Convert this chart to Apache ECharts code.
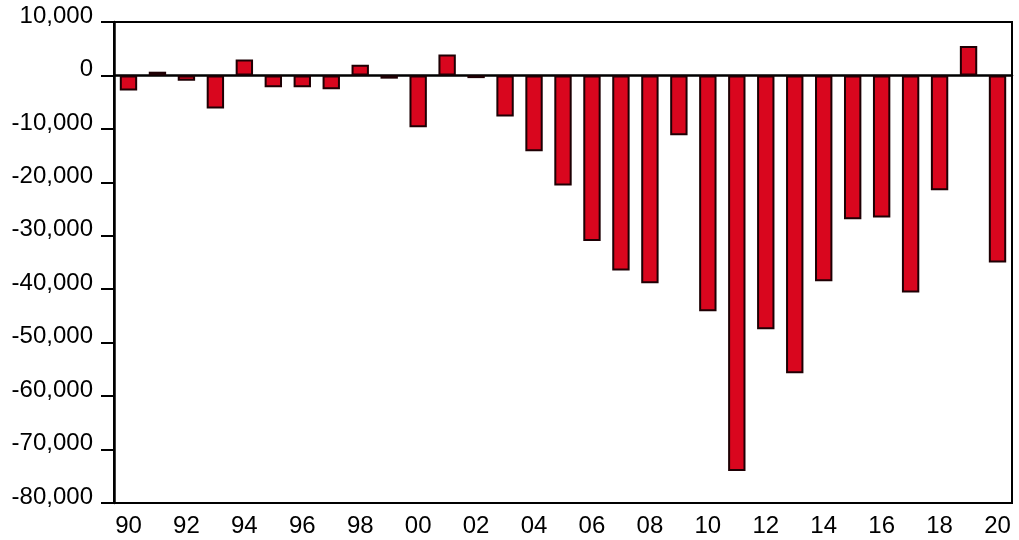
<!DOCTYPE html>
<html>
<head>
<meta charset="utf-8">
<script src="https://cdn.jsdelivr.net/npm/echarts@6/dist/echarts.min.js"></script>
<style>html,body{margin:0;padding:0;background:#fff}#c{width:1019px;height:540px}</style>
</head>
<body>
<div id="c"></div>
<script>
const years = ['90','91','92','93','94','95','96','97','98','99','00','01','02','03','04','05','06','07','08','09','10','11','12','13','14','15','16','17','18','19','20'];
const values = [-2800, 700, -1000, -6200, 3000, -2200, -2200, -2600, 2000, -600, -9700, 3900, -500, -7700, -14200, -20600, -31000, -36500, -38900, -11200, -44100, -74000, -47500, -55700, -38500, -26900, -26600, -40600, -21500, 5500, -35000];
const yMin = -80000, yMax = 10000, yStep = 10000;

const chart = echarts.init(document.getElementById('c'));
const font = 'Liberation Sans, Arial, sans-serif';
chart.setOption({
  animation: false,
  backgroundColor: '#fff',
  grid: {left: 114, right: 7, top: 22, bottom: 37, show: true, borderColor: '#000', borderWidth: 2},
  xAxis: {
    type: 'category',
    data: years,
    boundaryGap: true,
    axisLine: {lineStyle: {color: '#000', width: 2.5}},
    axisTick: {interval: 0, length: 12, lineStyle: {color: '#000', width: 2}},
    axisLabel: {interval: 1, color: '#000', fontFamily: font, fontSize: 24, margin: 11}
  },
  yAxis: {
    type: 'value',
    min: yMin, max: yMax, interval: yStep,
    splitLine: {show: false},
    axisLine: {show: true, lineStyle: {color: '#000', width: 2.5}},
    axisTick: {show: true, length: 13, lineStyle: {color: '#000', width: 2}},
    axisLabel: {
      color: '#000', fontFamily: font, fontSize: 24, margin: 21,
      verticalAlign: 'bottom', lineHeight: 12,
      formatter: v => v.toLocaleString('en-US')
    }
  },
  series: [{
    type: 'bar',
    data: values,
    barWidth: '60%',
    itemStyle: {color: '#d9061e', borderColor: '#1e0004', borderWidth: 2}
  }]
});
</script>
</body>
</html>
